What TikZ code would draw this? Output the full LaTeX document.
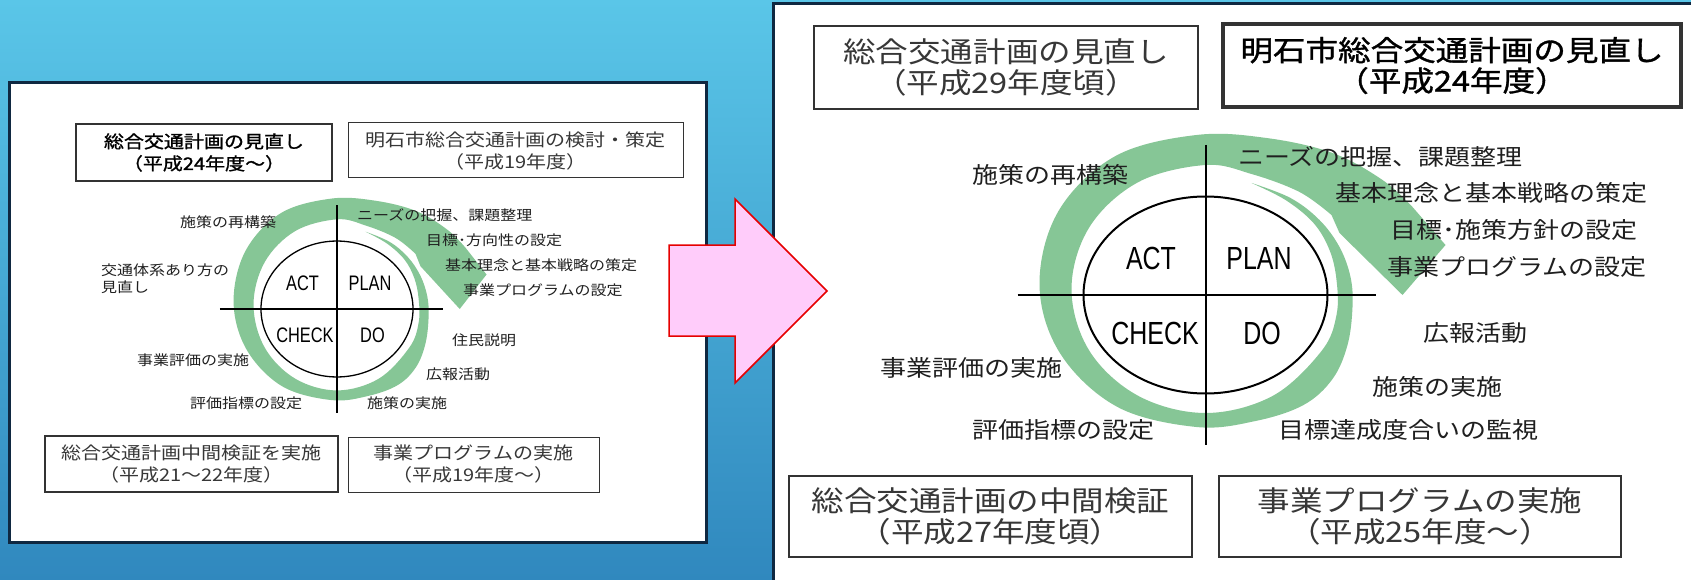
\documentclass[tikz,border=0pt]{standalone}
\usepackage{fontspec}
\newfontfamily\jp[FakeStretch=1.15]{Noto Sans CJK JP}
\newfontfamily\jpb[FakeStretch=1.15, FakeBold=1.2]{Noto Sans CJK JP}
\newfontfamily\narrowfont[FakeStretch=0.78]{Liberation Sans}
\definecolor{bgtop}{RGB}{90,198,232}
\definecolor{bgbot}{RGB}{48,136,190}
\definecolor{panelborder}{RGB}{15,40,65}
\definecolor{ringgreen}{RGB}{134,198,150}
\definecolor{arrowpink}{RGB}{255,204,250}
\definecolor{arrowred}{RGB}{230,0,0}
\definecolor{boxtext}{RGB}{55,55,55}
\newcommand{\pdcaSpiral}{%
  \fill[ringgreen] plot[smooth, tension=0.6] coordinates {(46,-112) (85,-97) (114,-75) (134,-48) (145,-18) (147,12) (142,50) (127,84) (98,110) (50,126) (-9,132) (-88,112) (-145,59) (-166,-10) (-147,-84) (-90,-139) (-9,-160) (61,-157) (127,-142) (177,-115) (207,-88)}
  -- (240,-50) -- (197,0) -- (134,-62)
  -- plot[smooth, tension=0.6] coordinates {(126,-80) (94,-103) (46,-121) (0,-130) (-67,-113) (-116,-68) (-134,-6) (-116,56) (-67,101) (0,118) (67,101) (116,56) (131,20) (131,-15) (124,-45) (108,-72) (80,-95) (46,-112)}
  -- cycle;}
\newcommand{\pdcaCross}[1]{%
  \coordinate (hl) at (-188,0); \coordinate (hr) at (170,0);
  \coordinate (vt) at (0,-150); \coordinate (vb) at (0,150);
  \draw[line width=#1] (hl) -- (hr);
  \draw[line width=#1] (vt) -- (vb);
  \draw[line width=#1] (0,0) ellipse [x radius=122, y radius=98.5];}
\tikzset{
  lbl/.style={inner sep=0pt, anchor=west, text=black!88, font=\jp\fontsize{13.9}{17}\selectfont},
  rlbl/.style={inner sep=0pt, anchor=west, text=black!88, font=\jp\fontsize{22.6}{26}\selectfont},
  pdcaS/.style={inner sep=0pt, text=black, font=\narrowfont\fontsize{21}{21}\selectfont},
  pdcaL/.style={inner sep=0pt, text=black, font=\narrowfont\fontsize{32}{32}\selectfont},
  boxS/.style={draw=black!80, fill=white, inner sep=0pt, align=center, text=boxtext, font=\jp\fontsize{17.4}{22}\selectfont},
  boxL/.style={draw=black!80, fill=white, inner sep=0pt, align=center, text=boxtext, font=\jp\fontsize{28.3}{30.5}\selectfont},
  panel/.style={draw=panelborder, fill=white, line width=3pt},
}
\begin{document}
\begin{tikzpicture}[x=1pt, y=-1pt]
\useasboundingbox (0,0) rectangle (1691,580);
\shade[top color=bgtop, bottom color=bgbot] (0,0) rectangle (1691,580);

% panels
\draw[panel] (9,83) rectangle (706,542);
\draw[panel] (773,4) rectangle (1700,590);

% ---------- left diagram ----------
\begin{scope}[shift={(337,309)}, xscale=0.623, yscale=0.69]
  \pdcaSpiral
  \pdcaCross{1.3pt}
\end{scope}
\node[pdcaS] (lact) at (302.5,283) {ACT};
\node[pdcaS] (lplan) at (370,283) {PLAN};
\node[pdcaS] (lcheck) at (305,335) {CHECK};
\node[pdcaS] (ldo) at (372.5,335) {DO};

\node[lbl] (l1) at (180,222) {施策の再構築};
\node[lbl, align=left] (l2) at (101,278.5) {交通体系あり方の\\見直し};
\node[lbl] (l3) at (357,215) {ニーズの把握、課題整理};
\node[lbl] (l4) at (426,240) {目標･方向性の設定};
\node[lbl] (l5) at (445,265) {基本理念と基本戦略の策定};
\node[lbl] (l6) at (463,290) {事業プログラムの設定};
\node[lbl] (l7) at (452,340) {住民説明};
\node[lbl] (l8) at (426,374) {広報活動};
\node[lbl] (l9) at (367,403) {施策の実施};
\node[lbl] (l10) at (190,403) {評価指標の設定};
\node[lbl] (l11) at (137,360) {事業評価の実施};

\node[boxS, line width=2.5pt, text=black, font=\jpb\fontsize{17.4}{22}\selectfont, minimum width=256pt, minimum height=57pt] (boxA) at (204,152.5) {総合交通計画の見直し\\（平成24年度〜）};
\node[boxS, line width=1pt, minimum width=335pt, minimum height=55pt] (boxB) at (515.5,150.5) {明石市総合交通計画の検討・策定\\（平成19年度）};
\node[boxS, line width=1.3pt, minimum width=293pt, minimum height=56pt] (boxC) at (191.5,464) {総合交通計画中間検証を実施\\（平成21〜22年度）};
\node[boxS, line width=1pt, minimum width=251pt, minimum height=55pt] (boxD) at (473.5,464.5) {事業プログラムの実施\\（平成19年度〜）};

% ---------- right diagram ----------
\begin{scope}[shift={(1205.5,295)}]
  \pdcaSpiral
  \pdcaCross{2pt}
\end{scope}
\node[pdcaL] (ract) at (1151,258) {ACT};
\node[pdcaL] (rplan) at (1259,258) {PLAN};
\node[pdcaL] (rcheck) at (1155,333) {CHECK};
\node[pdcaL] (rdo) at (1262,333) {DO};

\node[rlbl] (r1) at (972,175) {施策の再構築};
\node[rlbl] (r2) at (1238,157) {ニーズの把握、課題整理};
\node[rlbl] (r3) at (1335,193) {基本理念と基本戦略の策定};
\node[rlbl] (r4) at (1390,230) {目標･施策方針の設定};
\node[rlbl] (r5) at (1387,267) {事業プログラムの設定};
\node[rlbl] (r6) at (1423,333) {広報活動};
\node[rlbl] (r7) at (1372,387) {施策の実施};
\node[rlbl] (r8) at (1278,430) {目標達成度合いの監視};
\node[rlbl] (r9) at (880,368) {事業評価の実施};
\node[rlbl] (r10) at (972,430) {評価指標の設定};

\node[boxL, line width=1.5pt, minimum width=384pt, minimum height=83pt] (boxE) at (1006,67.5) {総合交通計画の見直し\\（平成29年度頃）};
\node[boxL, line width=3.5pt, text=black, font=\jpb\fontsize{28.3}{30.5}\selectfont, minimum width=458pt, minimum height=83pt] (boxF) at (1452,65.5) {明石市総合交通計画の見直し\\（平成24年度）};
\node[boxL, line width=1.5pt, minimum width=403pt, minimum height=81pt] (boxG) at (990.5,516.5) {総合交通計画の中間検証\\（平成27年度頃）};
\node[boxL, line width=2pt, minimum width=402pt, minimum height=81pt] (boxH) at (1420,516.5) {事業プログラムの実施\\（平成25年度〜）};

% ---------- pink arrow ----------
\draw[fill=arrowpink, draw=arrowred, line width=1.5pt, line join=miter]
  (669,245) -- (735,245) -- (735,199) -- (827,291) -- (735,383) -- (735,336) -- (669,336) -- cycle;
\end{tikzpicture}
\end{document}
